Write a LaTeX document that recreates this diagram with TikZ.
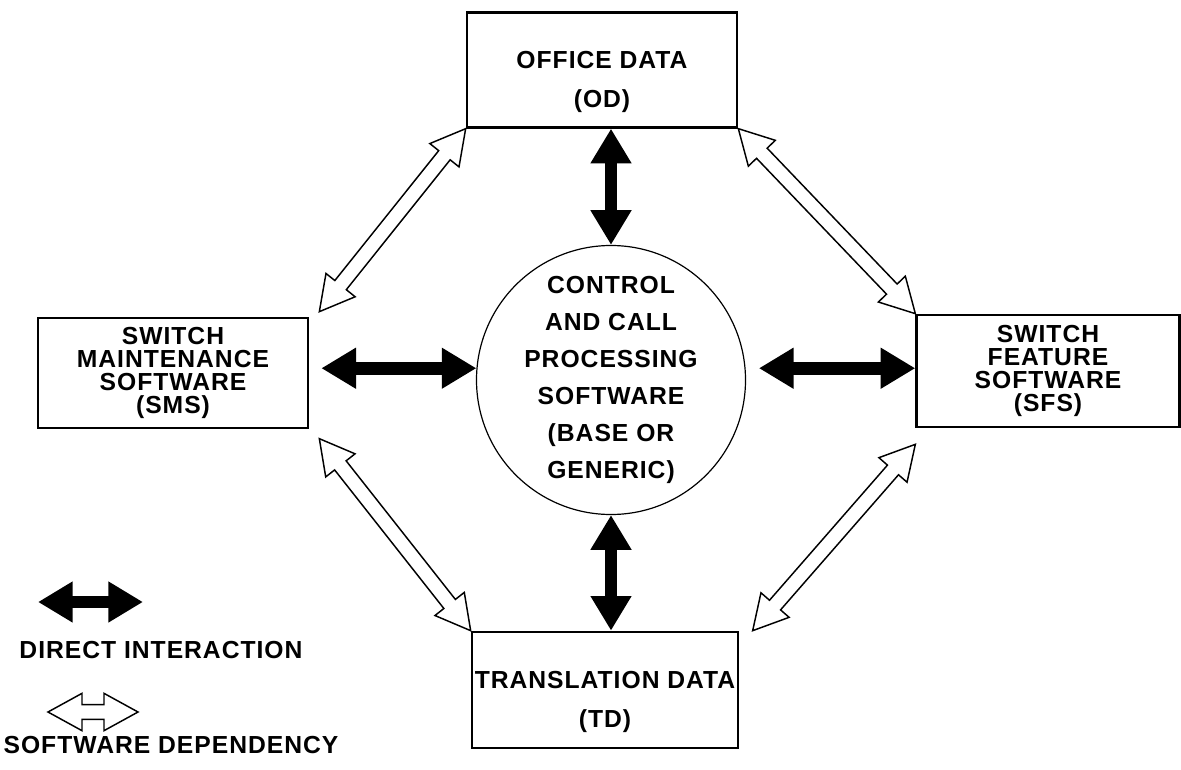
\documentclass[tikz,border=0pt]{standalone}
\usepackage{fontspec}
\setmainfont{Liberation Sans}[LetterSpace=4]
\usetikzlibrary{arrows.meta,calc}

\begin{document}
\begin{tikzpicture}[x=0.75pt, y=-0.75pt,
  box/.style={draw, line width=2pt, inner sep=0pt, align=center, font=\bfseries\fontsize{18.5}{17.4}\selectfont},
  twoline/.style={font=\bfseries\fontsize{18.5}{29}\selectfont},
  direct/.style={line width=9.5pt, >={Triangle[length=26pt,width=29pt]}, <->},
  depend/.style={draw=black, fill=white, line width=1.1pt, line join=miter,
    to path={
      ($(\tikztostart)!25.5pt!(\tikztotarget)$) coordinate (hb1)
      ($(\tikztotarget)!25.5pt!(\tikztostart)$) coordinate (hb2)
      (\tikztostart) -- ($(hb1)!14pt!90:(\tikztotarget)$) -- ($(hb1)!5.5pt!90:(\tikztotarget)$)
      -- ($(hb2)!5.5pt!-90:(\tikztostart)$) -- ($(hb2)!14pt!-90:(\tikztostart)$)
      -- (\tikztotarget) -- ($(hb2)!14pt!90:(\tikztostart)$) -- ($(hb2)!5.5pt!90:(\tikztostart)$)
      -- ($(hb1)!5.5pt!-90:(\tikztotarget)$) -- ($(hb1)!14pt!-90:(\tikztotarget)$) -- cycle}}]
\useasboundingbox (0,0) rectangle (1181,770);

\node[box, twoline, minimum width=202.5pt, minimum height=86pt] (od) at (602,70) {\rule{0pt}{31pt}OFFICE DATA\\(OD)};
\node[box, minimum width=202.5pt, minimum height=82.5pt] (sms) at (173,373) {SWITCH\\MAINTENANCE\\SOFTWARE\\(SMS)};
\node[box, minimum width=197pt, minimum height=84pt] (sfs) at (1048,371) {SWITCH\\FEATURE\\SOFTWARE\\(SFS)};
\node[box, twoline, minimum width=199.5pt, minimum height=87pt] (td) at (605,690) {\rule{0pt}{31pt}TRANSLATION DATA\\(TD)};
\node[circle, draw, line width=0.9pt, minimum size=186pt, inner sep=0pt, align=center,
  font=\bfseries\fontsize{18.5}{27.7}\selectfont] (cp) at (611,380)
  {CONTROL\\AND CALL\\PROCESSING\\SOFTWARE\\(BASE OR\\GENERIC)};

\draw[direct] (cp.north |- od.south) -- (cp.north);
\draw[direct] (cp.south) -- (cp.south |- td.north);
\draw[direct] ([xshift=9pt]sms.east |- cp.175) -- (cp.175);
\draw[direct] ([xshift=10pt]cp.5) -- (cp.5 -| sfs.west);

\coordinate (smsne) at ([shift={(7.5pt,3.75pt)}]sms.north east);
\coordinate (smsse) at ([shift={(7.5pt,-7pt)}]sms.south east);
\coordinate (tdne) at ([xshift=10pt]td.north east);
\coordinate (sfssw) at ([yshift=-12pt]sfs.south west);
\draw[depend] (od.south west) to (smsne);
\draw[depend] (od.south east) to (sfs.north west);
\draw[depend] (smsse) to (td.north west);
\draw[depend] (tdne) to (sfssw);

\coordinate (ld1) at (38,602);
\coordinate (ld2) at (143,602);
\draw[direct] (ld1) -- (ld2);
\node[font=\bfseries\fontsize{18.5}{20}\selectfont] (ldirect) at (161,650) {DIRECT INTERACTION};
\coordinate (ls1) at (48,712);
\coordinate (ls2) at (138,712);
\draw[depend] (ls1) to (ls2);
\node[font=\bfseries\fontsize{18.5}{20}\selectfont] (ldepend) at (171,745) {SOFTWARE DEPENDENCY};
\end{tikzpicture}
\end{document}
